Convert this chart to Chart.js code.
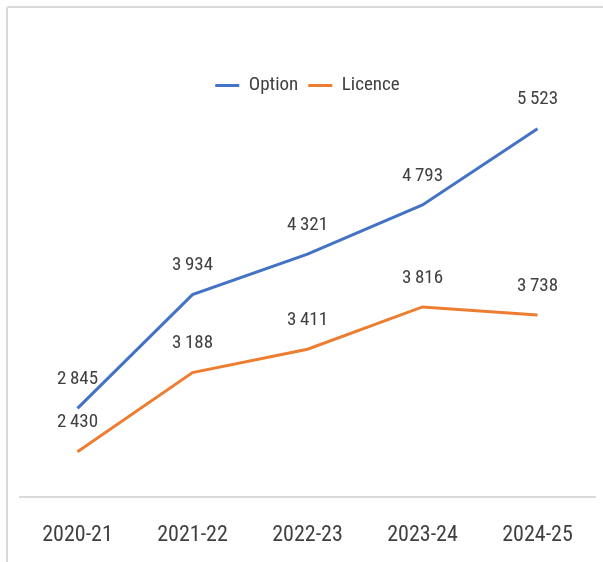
<!DOCTYPE html>
<html>
<head>
<meta charset="utf-8">
<script src="https://cdn.jsdelivr.net/npm/chart.js@4/dist/chart.umd.min.js"></script>
<style>
  html, body { margin: 0; padding: 0; background: #fff; overflow: hidden; }
  #cadre { position: absolute; left: 6px; top: 6px; width: 640px; height: 620px;
           border: 2px solid #d9d9d9; border-radius: 3px; }
  #boite { position: absolute; left: 0; top: 0; width: 603px; height: 562px; }
</style>
</head>
<body>
<div id="cadre"></div>
<div id="boite"><canvas id="graphique"></canvas></div>
<script>
// donnees
const annees = ["2020-21", "2021-22", "2022-23", "2023-24", "2024-25"];
const option = [2845, 3934, 4321, 4793, 5523];
const licence = [2430, 3188, 3411, 3816, 3738];
const yMin = 2000;
const yMax = 5750;

const police = "'Roboto Condensed', sans-serif";
const gris = "#404040";

function formatNombre(v) {
  return String(v).replace(/\B(?=(\d{3})+(?!\d))/g, "\u2009");
}

// etiquettes au dessus des points
const etiquettes = {
  id: "etiquettes",
  afterDatasetsDraw(chart) {
    const ctx = chart.ctx;
    ctx.save();
    ctx.font = "19px " + police;
    ctx.fillStyle = gris;
    ctx.textAlign = "center";
    ctx.textBaseline = "middle";
    chart.data.datasets.forEach((ds, i) => {
      const meta = chart.getDatasetMeta(i);
      meta.data.forEach((pt, j) => {
        ctx.fillText(formatNombre(ds.data[j]), pt.x, pt.y - 29);
      });
    });
    ctx.restore();
  }
};

const ctx = document.getElementById("graphique");
new Chart(ctx, {
  type: "line",
  data: {
    labels: annees,
    datasets: [{
      label: "Option",
      data: option,
      borderColor: "#4472C4",
      backgroundColor: "#4472C4",
      borderWidth: 3,
      pointRadius: 0,
      tension: 0
    }, {
      label: "Licence",
      data: licence,
      borderColor: "#ED7D31",
      backgroundColor: "#ED7D31",
      borderWidth: 3,
      pointRadius: 0,
      tension: 0
    }]
  },
  options: {
    responsive: true,
    maintainAspectRatio: false,
    animation: false,
    layout: { padding: { left: 20, right: 8, top: 66, bottom: -13 } },
    plugins: {
      tooltip: { enabled: false },
      legend: {
        position: "top",
        labels: {
          usePointStyle: true,
          pointStyle: "line",
          pointStyleWidth: 24,
          padding: 10,
          color: gris,
          font: { family: police, size: 19 }
        }
      }
    },
    scales: {
      x: {
        offset: true,
        grid: { display: false, drawTicks: false },
        border: { display: true, color: "#d9d9d9", width: 2 },
        ticks: { color: gris, padding: 26, maxRotation: 0, font: { family: police, size: 22 } }
      },
      y: {
        display: false,
        min: yMin,
        max: yMax
      }
    }
  },
  plugins: [etiquettes]
});
</script>
</body>
</html>
